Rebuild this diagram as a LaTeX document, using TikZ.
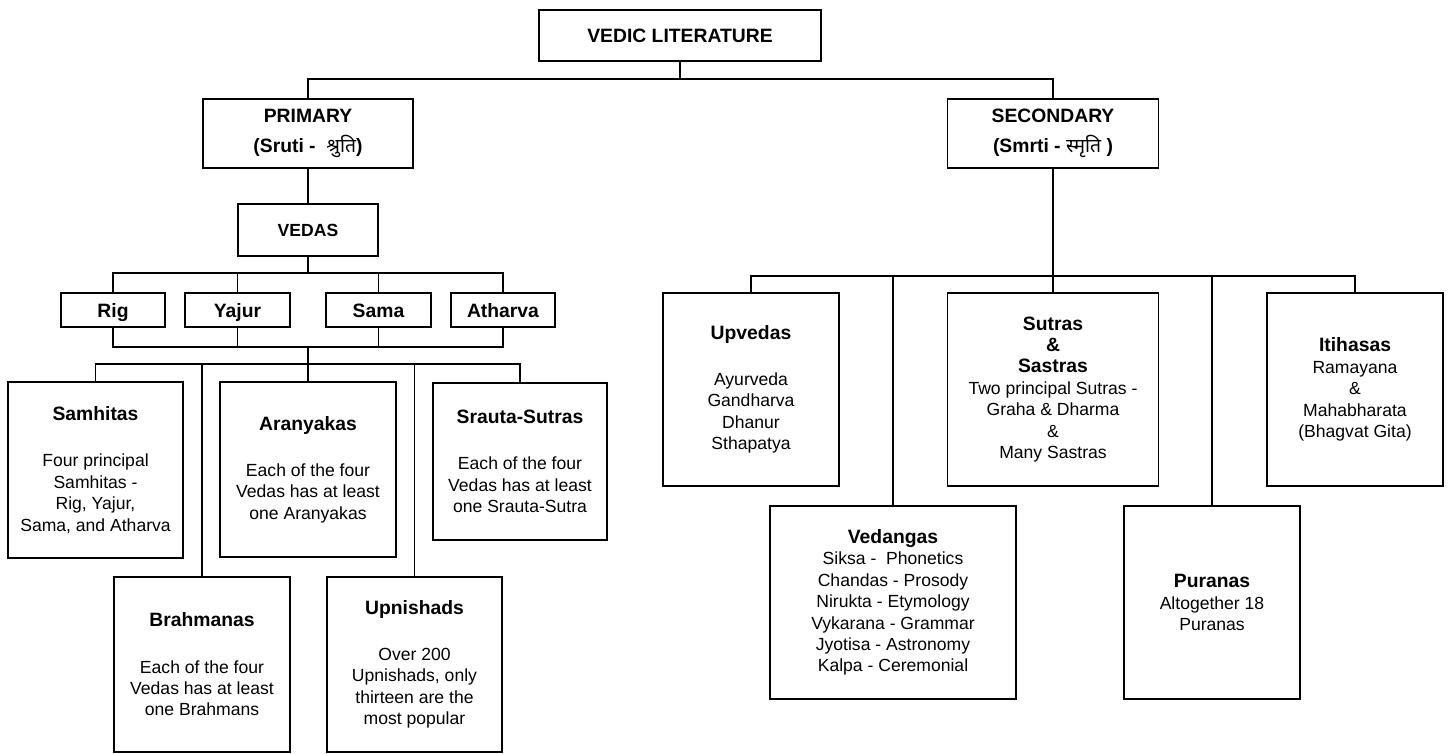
\documentclass[tikz,border=0pt]{standalone}
\usepackage{fontspec}
\setmainfont{Liberation Sans}
\newfontfamily\deva[Script=Devanagari]{Noto Sans}
\usepackage{tikz}
\tikzstyle{box}=[draw, line width=1pt, inner sep=0pt, align=center, font=\fontsize{10}{12.2}\selectfont]
\tikzstyle{veda}=[box, minimum height=0.68cm, text height=10pt, text depth=1.5pt]
\tikzstyle{link}=[line width=1pt]
\newcommand{\hd}[1]{{\fontsize{11}{13}\selectfont\bfseries #1}}

\begin{document}
\begin{tikzpicture}[x=0.02cm, y=-0.02cm]
    \useasboundingbox (0,0) rectangle (1448,754);
    % top levels
    \node (lit) [box, minimum width=5.64cm, minimum height=1.02cm] at (680,35.5) {\hd{VEDIC LITERATURE}};
    \node (prim) [box, minimum width=4.2cm, minimum height=1.38cm] at (308,133.5) {\hd{PRIMARY}\\[5pt]\hd{(Sruti -\ \ {\deva श्रुति})}};
    \node (sec) [box, minimum width=4.22cm, minimum height=1.38cm] at (1053,133.5) {\hd{SECONDARY}\\[5pt]\hd{(Smrti - {\deva स्मृति}\ )}};
    \node (vedas) [box, minimum width=2.8cm, minimum height=1.04cm] at (308,230) {\textbf{VEDAS}};
    % the four vedas
    \node (rig) [veda, minimum width=2.08cm] at (113,310) {\hd{Rig}};
    \node (yaj) [veda, minimum width=2.1cm] at (237.5,310) {\hd{Yajur}};
    \node (sam) [veda, minimum width=2.1cm] at (378.5,310) {\hd{Sama}};
    \node (ath) [veda, minimum width=2.08cm] at (503,310) {\hd{Atharva}};
    % primary texts
    \node (samh) [box, minimum width=3.5cm, minimum height=3.52cm] at (95.5,470) {\hd{Samhitas}\\[14pt]Four principal\\Samhitas -\\Rig, Yajur,\\Sama, and Atharva};
    \node (aran) [box, minimum width=3.52cm, minimum height=3.5cm] at (308,469.5) {\hd{Aranyakas}\\[14pt]Each of the four\\Vedas has at least\\one Aranyakas};
    \node (srau) [box, minimum width=3.48cm, minimum height=3.14cm] at (520,461.5) {\hd{Srauta-Sutras}\\[14pt]Each of the four\\Vedas has at least\\one Srauta-Sutra};
    \node (brah) [box, minimum width=3.52cm, minimum height=3.5cm] at (202,664.5) {\hd{Brahmanas}\\[14pt]Each of the four\\Vedas has at least\\one Brahmans};
    \node (upan) [box, minimum width=3.5cm, minimum height=3.5cm] at (414.5,664.5) {\hd{Upnishads}\\[14pt]Over 200\\Upnishads, only\\thirteen are the\\most popular};
    % secondary texts
    \node (upv) [box, minimum width=3.52cm, minimum height=3.86cm] at (751,389.5) {\hd{Upvedas}\\[14pt]Ayurveda\\Gandharva\\Dhanur\\Sthapatya};
    \node (sut) [box, minimum width=4.22cm, minimum height=3.86cm] at (1053,389.5) {\hd{Sutras}\\\hd{\&}\\\hd{Sastras}\\Two principal Sutras -\\Graha \& Dharma\\\&\\Many Sastras};
    \node (iti) [box, minimum width=3.52cm, minimum height=3.86cm] at (1355,389.5) {\hd{Itihasas}\\Ramayana\\\&\\Mahabharata\\(Bhagvat Gita)};
    \node (vedg) [box, minimum width=4.92cm, minimum height=3.86cm] at (893,602.5) {\hd{Vedangas}\\Siksa -\ \ Phonetics\\Chandas - Prosody\\Nirukta - Etymology\\Vykarana - Grammar\\Jyotisa - Astronomy\\Kalpa - Ceremonial};
    \node (pur) [box, minimum width=3.52cm, minimum height=3.86cm] at (1212,602.5) {\hd{Puranas}\\Altogether 18\\Puranas};
    % joints
    \coordinate (j1) at (680,79);
    \coordinate (j2) at (308,273);
    \coordinate (j3) at (308,347);
    \coordinate (j4) at (308,364);
    \coordinate (j5) at (1053,276);
    % connectors
    \draw [link] (lit) -- (j1);
    \draw [link] (prim) |- (j1) -| (sec);
    \draw [link] (prim) -- (vedas);
    \draw [link] (vedas) -- (j2);
    \draw [link] (rig) |- (j2) -| (ath);
    \draw [link] (yaj) |- (j2);
    \draw [link] (sam) |- (j2);
    \draw [link] (rig) |- (j3) -| (ath);
    \draw [link] (yaj) |- (j3);
    \draw [link] (sam) |- (j3);
    \draw [link] (j3) -- (aran);
    \draw [link] (samh) |- (j4) -| (srau);
    \draw [link] (brah) |- (j4);
    \draw [link] (upan) |- (j4);
    \draw [link] (sec) -- (j5);
    \draw [link] (upv) |- (j5) -| (iti);
    \draw [link] (vedg) |- (j5);
    \draw [link] (pur) |- (j5);
    \draw [link] (j5) -- (sut);
\end{tikzpicture}
\end{document}
